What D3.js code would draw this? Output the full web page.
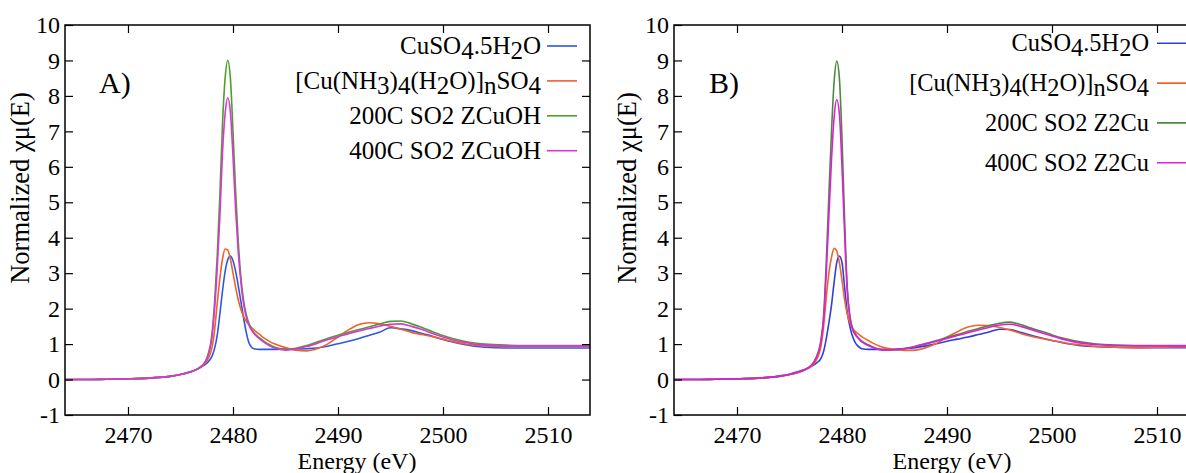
<!DOCTYPE html>
<html>
<head>
<meta charset="utf-8">
<script src="https://cdn.jsdelivr.net/npm/d3@7"></script>
</head>
<body style="margin:0;padding:0;background:#fff;">
<svg id="chart" width="1186" height="473" style="display:block"></svg>
<script>
// Shared photon-energy grid (eV); finer around the white line.
const energy = [2464, 2466, 2468, 2470, 2472, 2473, 2474, 2475, 2476, 2476.5, 2477, 2477.5,
  2478, 2478.25, 2478.5, 2478.75, 2479, 2479.25, 2479.5, 2479.75, 2480, 2480.25, 2480.5, 2480.75,
  2481, 2481.25, 2481.5, 2481.75, 2482, 2482.5, 2483, 2483.5, 2484, 2485, 2486, 2487, 2488, 2489,
  2490, 2491, 2492, 2493, 2494, 2495, 2496, 2497, 2498, 2499, 2500, 2501, 2502, 2503, 2504,
  2506, 2508, 2510, 2512, 2514];

// Panel A: normalized absorption
const cuso4A = [0, 0, 0.01, 0.02, 0.04, 0.06, 0.09, 0.14, 0.23, 0.28, 0.36, 0.46,
  0.66, 0.88, 1.25, 1.85, 2.5, 3.05, 3.38, 3.48, 3.35, 3.05, 2.65, 2.2,
  1.75, 1.35, 1.05, 0.92, 0.87, 0.85, 0.85, 0.85, 0.85, 0.86, 0.86, 0.87, 0.89, 0.94,
  1.01, 1.08, 1.16, 1.25, 1.34, 1.46, 1.43, 1.38, 1.3, 1.22, 1.13, 1.05, 0.99, 0.94, 0.91,
  0.89, 0.89, 0.89, 0.89, 0.89];
const amineA = [0, 0, 0.01, 0.02, 0.04, 0.06, 0.09, 0.14, 0.22, 0.28, 0.37, 0.52,
  0.9, 1.4, 2.15, 2.85, 3.4, 3.68, 3.65, 3.4, 3.0, 2.6, 2.25, 1.98,
  1.78, 1.65, 1.55, 1.47, 1.4, 1.28, 1.16, 1.07, 1.0, 0.9, 0.83, 0.81, 0.87, 1.0,
  1.2, 1.4, 1.55, 1.6, 1.57, 1.5, 1.42, 1.33, 1.27, 1.21, 1.14, 1.07, 1.01, 0.97, 0.95,
  0.93, 0.93, 0.93, 0.93, 0.93];
const zcuoh200 = [0, 0, 0.01, 0.02, 0.04, 0.06, 0.09, 0.14, 0.22, 0.28, 0.38, 0.6,
  1.3, 2.2, 3.5, 5.2, 7.2, 8.5, 9.0, 8.5, 7.0, 5.3, 3.9, 2.9,
  2.25, 1.85, 1.6, 1.43, 1.32, 1.18, 1.07, 0.98, 0.91, 0.85, 0.88, 0.96, 1.06, 1.16,
  1.25, 1.33, 1.41, 1.49, 1.57, 1.64, 1.65, 1.57, 1.47, 1.35, 1.24, 1.15, 1.08, 1.03, 1.0,
  0.97, 0.96, 0.96, 0.96, 0.96];
const zcuoh400 = [0, 0, 0.01, 0.02, 0.04, 0.06, 0.09, 0.14, 0.22, 0.28, 0.38, 0.58,
  1.2, 2.0, 3.15, 4.6, 6.4, 7.5, 7.95, 7.55, 6.3, 4.8, 3.6, 2.75,
  2.15, 1.78, 1.55, 1.4, 1.3, 1.15, 1.04, 0.95, 0.88, 0.83, 0.86, 0.93, 1.02, 1.12,
  1.21, 1.29, 1.37, 1.44, 1.51, 1.56, 1.57, 1.5, 1.41, 1.3, 1.2, 1.11, 1.05, 1.0, 0.97,
  0.95, 0.95, 0.95, 0.95, 0.95];

// Panel B: normalized absorption
const cuso4B = [0, 0, 0.01, 0.02, 0.04, 0.06, 0.1, 0.15, 0.24, 0.29, 0.36, 0.45,
  0.6, 0.8, 1.15, 1.6, 2.1, 2.75, 3.3, 3.48, 3.3, 2.6, 1.9, 1.5,
  1.22, 1.05, 0.95, 0.89, 0.86, 0.85, 0.85, 0.85, 0.85, 0.85, 0.87, 0.9, 0.95, 1.01,
  1.08, 1.14, 1.2, 1.27, 1.34, 1.42, 1.41, 1.33, 1.25, 1.17, 1.1, 1.04, 0.99, 0.95, 0.93,
  0.91, 0.9, 0.9, 0.9, 0.9];
const amineB = [0, 0, 0.01, 0.02, 0.04, 0.06, 0.09, 0.14, 0.22, 0.28, 0.36, 0.52,
  0.95, 1.5, 2.3, 3.0, 3.45, 3.7, 3.62, 3.3, 2.8, 2.25, 1.85, 1.6,
  1.45, 1.36, 1.3, 1.24, 1.19, 1.1, 1.02, 0.95, 0.9, 0.85, 0.82, 0.83, 0.9, 1.02,
  1.2, 1.35, 1.48, 1.53, 1.52, 1.47, 1.4, 1.3, 1.22, 1.16, 1.1, 1.05, 1.0, 0.97, 0.94,
  0.91, 0.9, 0.91, 0.92, 0.92];
const z2cu200 = [0, 0, 0.01, 0.02, 0.04, 0.06, 0.09, 0.14, 0.22, 0.28, 0.38, 0.6,
  1.13, 1.8, 3.3, 5.2, 7.0, 8.4, 8.98, 8.5, 6.8, 4.5, 2.6, 1.8,
  1.45, 1.3, 1.2, 1.12, 1.06, 0.98, 0.91, 0.86, 0.83, 0.84, 0.88, 0.94, 1.02, 1.1,
  1.19, 1.27, 1.36, 1.44, 1.52, 1.59, 1.62, 1.55, 1.45, 1.36, 1.26, 1.17, 1.1, 1.05, 1.01,
  0.97, 0.96, 0.96, 0.96, 0.96];
const z2cu400 = [0, 0, 0.01, 0.02, 0.04, 0.06, 0.09, 0.14, 0.22, 0.28, 0.38, 0.58,
  1.08, 1.7, 3.0, 4.6, 6.2, 7.4, 7.9, 7.5, 6.0, 4.1, 2.5, 1.75,
  1.42, 1.27, 1.18, 1.1, 1.04, 0.96, 0.9, 0.85, 0.83, 0.84, 0.87, 0.93, 1.0, 1.08,
  1.16, 1.24, 1.32, 1.4, 1.47, 1.54, 1.56, 1.5, 1.41, 1.32, 1.23, 1.14, 1.07, 1.02, 0.99,
  0.96, 0.95, 0.95, 0.95, 0.95];

// Legend labels ("_x" marks a subscript character)
const labelsA = ["CuSO_4.5H_2O", "[Cu(NH_3)_4(H_2O)]_nSO_4", "200C SO2 ZCuOH", "400C SO2 ZCuOH"];
const labelsB = ["CuSO_4.5H_2O", "[Cu(NH_3)_4(H_2O)]_nSO_4", "200C SO2 Z2Cu", "400C SO2 Z2Cu"];

// Axis ticks and titles
const xDomain = [2464, 2514];
const yDomain = [-1, 10];
const xTicks = [2470, 2480, 2490, 2500, 2510];
const yTicks = [-1, 0, 1, 2, 3, 4, 5, 6, 7, 8, 9, 10];
const xTitle = "Energy (eV)";
const yTitle = "Normalized \u03c7\u03bc(E)";

const FONT = '"Liberation Serif", "Times New Roman", serif';

const svg = d3.select("#chart").style("font-family", FONT);
svg.append("rect").attr("width", 1186).attr("height", 473).attr("fill", "#fff");

function subscriptParts(label) {
  const parts = [];
  let buf = "";
  for (let i = 0; i < label.length; i++) {
    if (label[i] === "_" && i + 1 < label.length) {
      if (buf) parts.push({ t: buf, sub: false });
      buf = "";
      parts.push({ t: label[i + 1], sub: true });
      i++;
    } else {
      buf += label[i];
    }
  }
  if (buf) parts.push({ t: buf, sub: false });
  return parts;
}

function drawPanel(cfg) {
  const g = svg.append("g").style("font-family", FONT);
  const x = d3.scaleLinear().domain(xDomain).range([cfg.left, cfg.left + cfg.width]);
  const y = d3.scaleLinear().domain(yDomain).range([cfg.top + cfg.height, cfg.top]);

  const clipId = "clip-" + cfg.id;
  svg.append("clipPath").attr("id", clipId).append("rect")
    .attr("x", cfg.left).attr("y", cfg.top).attr("width", cfg.width).attr("height", cfg.height);

  const line = d3.line()
    .x((d, i) => x(energy[i]))
    .y(d => y(d))
    .curve(d3.curveMonotoneX);

  const curves = g.append("g").attr("clip-path", `url(#${clipId})`);
  cfg.series.forEach(s => {
    curves.append("path")
      .attr("d", line(s.values))
      .attr("fill", "none")
      .attr("stroke", s.color)
      .attr("stroke-width", 1.6)
      .attr("stroke-linejoin", "round");
  });

  // Axes: inward ticks on all four sides
  const axisStyle = sel => {
    sel.attr("font-family", null).style("font-family", FONT);
    sel.select(".domain").remove();
    sel.selectAll(".tick line").attr("stroke", "#000").attr("stroke-width", 1.2);
    sel.selectAll(".tick text").attr("fill", "#000")
      .style("font-family", FONT).style("font-size", "24px");
  };
  const fmt = d => String(d);
  g.append("g").attr("transform", `translate(0,${cfg.top + cfg.height})`)
    .call(d3.axisBottom(x).tickValues(xTicks).tickSize(-8).tickPadding(11).tickFormat(fmt))
    .call(axisStyle);
  g.append("g").attr("transform", `translate(0,${cfg.top})`)
    .call(d3.axisTop(x).tickValues(xTicks).tickSize(-8).tickFormat(""))
    .call(axisStyle);
  g.append("g").attr("transform", `translate(${cfg.left},0)`)
    .call(d3.axisLeft(y).tickValues(yTicks).tickSize(-8).tickPadding(5).tickFormat(fmt))
    .call(axisStyle);
  g.append("g").attr("transform", `translate(${cfg.left + cfg.width},0)`)
    .call(d3.axisRight(y).tickValues(yTicks.slice(1, -1)).tickSize(-8).tickFormat(""))
    .call(axisStyle);

  g.append("rect")
    .attr("x", cfg.left).attr("y", cfg.top)
    .attr("width", cfg.width).attr("height", cfg.height)
    .attr("fill", "none").attr("stroke", "#000").attr("stroke-width", 1.5);

  // Axis titles
  g.append("text")
    .attr("x", cfg.xTitleX).attr("y", 469)
    .attr("text-anchor", "middle")
    .style("font-size", "24px").style("font-family", FONT)
    .text(xTitle);
  g.append("text")
    .attr("transform", `translate(${cfg.yTitleX},188) rotate(-90)`)
    .attr("text-anchor", "middle")
    .style("font-size", "26.5px").style("font-family", FONT)
    .text(yTitle);

  // Panel tag
  g.append("text")
    .attr("x", cfg.tagX).attr("y", 93)
    .style("font-size", "30px").style("font-family", FONT)
    .text(cfg.tag);

  // Legend
  const leg = cfg.legend;
  cfg.series.forEach((s, i) => {
    const ly = leg.y0 + i * leg.step;
    const t = g.append("text")
      .attr("x", leg.textRight).attr("y", ly)
      .attr("dy", "0.33em")
      .attr("text-anchor", "end")
      .style("font-size", leg.fontSize + "px").style("font-family", FONT);
    const shift = leg.fontSize * 0.2;
    let lowered = false;
    subscriptParts(s.label).forEach(p => {
      const ts = t.append("tspan").text(p.t);
      if (p.sub && !lowered) { ts.attr("dy", shift); lowered = true; }
      else if (!p.sub && lowered) { ts.attr("dy", -shift); lowered = false; }
    });
    g.append("line")
      .attr("x1", leg.lineX1).attr("x2", leg.lineX2)
      .attr("y1", ly).attr("y2", ly)
      .attr("stroke", s.color).attr("stroke-width", 1.6);
  });
}

drawPanel({
  id: "a", tag: "A)", tagX: 99,
  left: 65, top: 25, width: 525, height: 390,
  xTitleX: 357, yTitleX: 29,
  legend: { textRight: 541, lineX1: 547, lineX2: 577, y0: 46, step: 34.9, fontSize: 25 },
  series: [
    { label: labelsA[0], values: cuso4A, color: "#2b57e3" },
    { label: labelsA[1], values: amineA, color: "#f0602e" },
    { label: labelsA[2], values: zcuoh200, color: "#4f9f2c" },
    { label: labelsA[3], values: zcuoh400, color: "#d836d6" }
  ]
});

drawPanel({
  id: "b", tag: "B)", tagX: 709,
  left: 674, top: 25, width: 525, height: 390,
  xTitleX: 952, yTitleX: 636,
  legend: { textRight: 1149, lineX1: 1157, lineX2: 1200, y0: 43.3, step: 39.8, fontSize: 24.4 },
  series: [
    { label: labelsB[0], values: cuso4B, color: "#2d3fe0" },
    { label: labelsB[1], values: amineB, color: "#f2642e" },
    { label: labelsB[2], values: z2cu200, color: "#4d8a3e" },
    { label: labelsB[3], values: z2cu400, color: "#e01ed6" }
  ]
});
</script>
</body>
</html>
